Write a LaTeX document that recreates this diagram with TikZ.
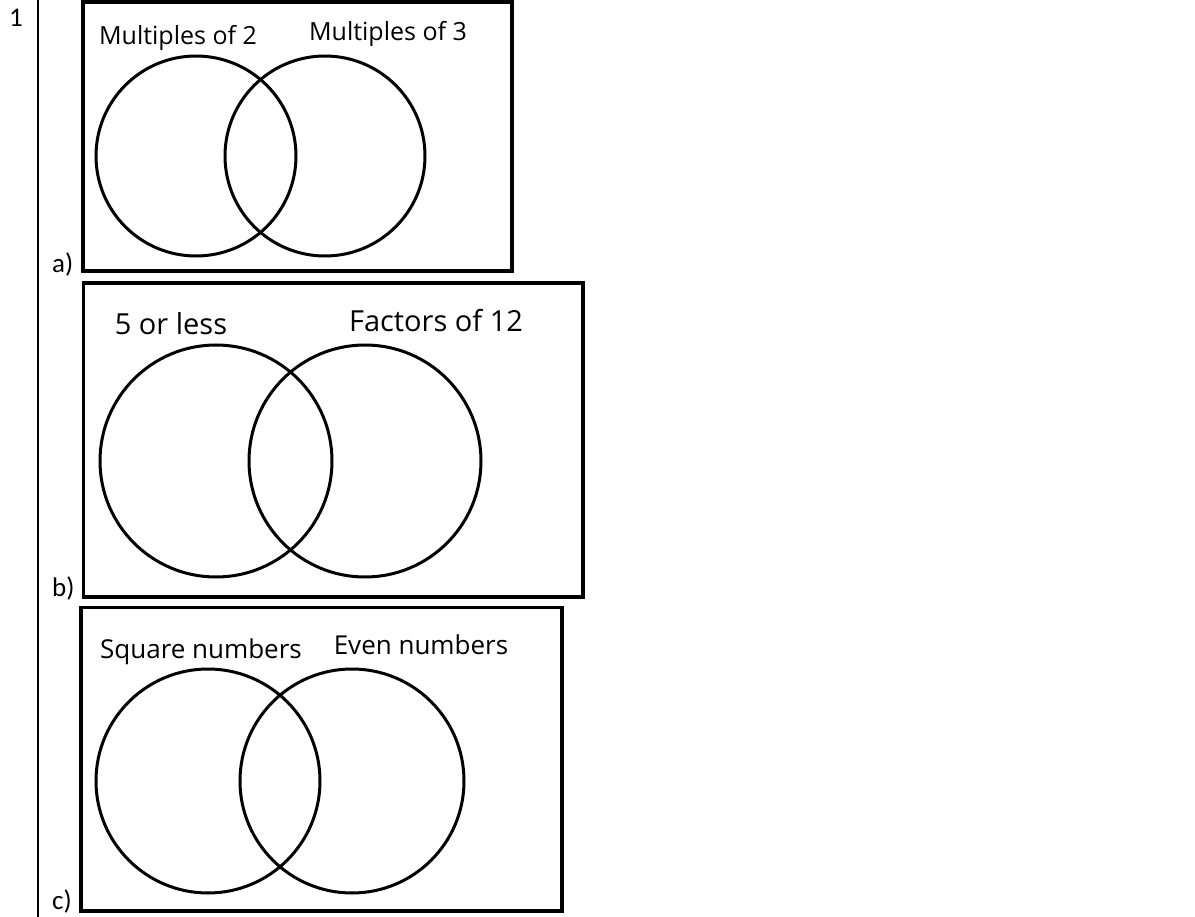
\documentclass[tikz,border=0pt]{standalone}
\usepackage{fontspec}
\setmainfont{Carlito}
\newfontfamily\handfont{Open Sans}
\usepackage{tikz}

\tikzset{
  vennbox/.style={line width=3.6pt},
  vennring/.style={line width=3pt},
  setname/.style={anchor=base, inner sep=0pt},
  partname/.style={anchor=base west, inner sep=0pt, font=\fontsize{27}{31}\selectfont},
}

\begin{document}
\begin{tikzpicture}[x=1pt,y=-1pt]
\useasboundingbox (0,0) rectangle (1195,917);

\draw[line width=2.6pt] (38,0)--(38,917); % table rule
\node[partname] (num) at (9,27) {1};

% part a
\coordinate (boxa1) at (83,1.8);
\coordinate (boxa2) at (512,271);
\draw[vennbox] (boxa1) rectangle (boxa2);
\coordinate (twos) at (196,156);
\coordinate (threes) at (325,156);
\draw[vennring] (twos) circle (100pt);
\draw[vennring] (threes) circle (100pt);
\node[setname, font=\handfont\fontsize{25}{28}\selectfont] (twoslabel) at (178,45) {Multiples of 2};
\node[setname, font=\handfont\fontsize{25}{28}\selectfont] (threeslabel) at (388,41) {Multiples of 3};
\node[partname] (parta) at (52,273) {a)};

% part b
\coordinate (boxb1) at (83.5,283);
\coordinate (boxb2) at (583,597);
\draw[vennbox] (boxb1) rectangle (boxb2);
\coordinate (small) at (216,461);
\coordinate (factors) at (365,461);
\draw[vennring] (small) circle (116pt);
\draw[vennring] (factors) circle (116pt);
\node[setname, font=\handfont\fontsize{29}{32}\selectfont] (smalllabel) at (171,335) {5 or less};
\node[setname, font=\handfont\fontsize{29}{32}\selectfont] (factorslabel) at (436,332) {Factors of 12};
\node[partname] (partb) at (52,596) {b)};

% part c
\coordinate (boxc1) at (81,607.5);
\coordinate (boxc2) at (562,911);
\draw[vennbox] (boxc1) rectangle (boxc2);
\coordinate (squares) at (208,781);
\coordinate (evens) at (352,781);
\draw[vennring] (squares) circle (112pt);
\draw[vennring] (evens) circle (112pt);
\node[setname, font=\handfont\fontsize{26}{29}\selectfont] (squareslabel) at (201,658) {Square numbers};
\node[setname, font=\handfont\fontsize{26}{29}\selectfont] (evenslabel) at (421,654) {Even numbers};
\node[partname] (partc) at (52,909) {c)};

\end{tikzpicture}
\end{document}
